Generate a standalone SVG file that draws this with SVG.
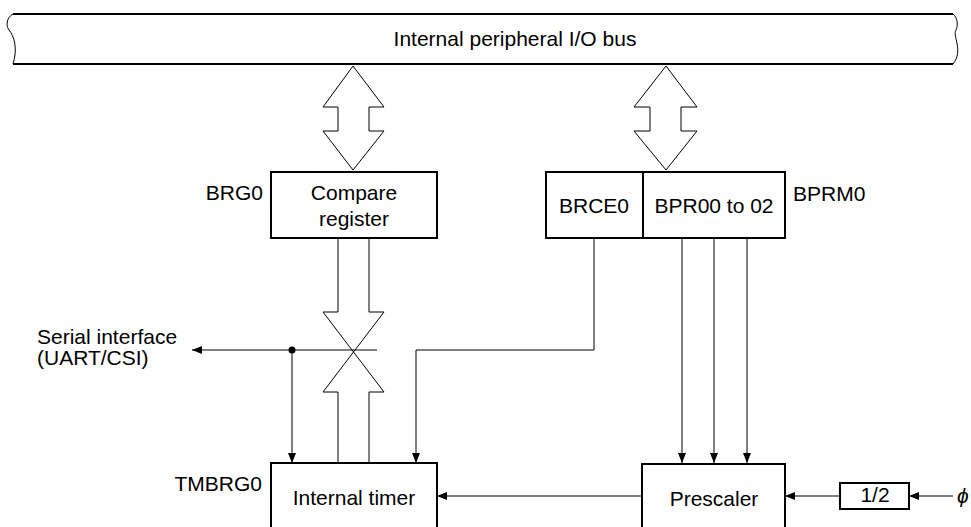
<svg xmlns="http://www.w3.org/2000/svg" width="971" height="527" viewBox="0 0 971 527">
<style>
text{font-family:"Liberation Sans",Arial,sans-serif;font-size:21px;fill:#000}
.box{fill:#fff;stroke:#000;stroke-width:2}
.ln{fill:none;stroke:#000;stroke-width:1}
.bus{fill:none;stroke:#000;stroke-width:2}
.dbl{fill:#fff;stroke:#000;stroke-width:1}
</style>
<defs>
<marker id="ah" markerWidth="10" markerHeight="8" refX="10" refY="4" orient="auto" markerUnits="userSpaceOnUse">
<path d="M0,0 L10,4 L0,8 Z" fill="#000"/>
</marker>
</defs>
<g id="bus">
<path class="bus" d="M13,14 H953 M13,64 H953"/>
<path class="ln" d="M13,14 C6,18 6,26 9,30 C14,36 18,48 13,64"/>
<path class="ln" d="M953,14 C958,18 958,26 956,30 C952,36 964,50 953,64"/>
<text x="515" y="46" text-anchor="middle">Internal peripheral I/O bus</text>
</g>
<g id="arrow-left">
<path class="dbl" d="M353,66 L384,107 L369,107 L369,131 L384,131 L353,170 L323,131 L338,131 L338,107 L323,107 Z"/>
</g>
<g id="arrow-right">
<path class="dbl" d="M666,66 L697,107 L681,107 L681,131 L697,131 L666,170 L634,131 L650,131 L650,107 L634,107 Z"/>
</g>
<g id="brg0">
<rect class="box" x="271" y="172" width="166" height="66"/>
<text x="354" y="200" text-anchor="middle">Compare</text>
<text x="354" y="226" text-anchor="middle">register</text>
<text x="263" y="200" text-anchor="end">BRG0</text>
</g>
<g id="brce0">
<rect class="box" x="546" y="172" width="97" height="66"/>
<text x="594" y="213" text-anchor="middle">BRCE0</text>
</g>
<g id="bprm0">
<rect class="box" x="643" y="172" width="142" height="66"/>
<text x="714" y="213" text-anchor="middle">BPR00 to 02</text>
<text x="793" y="201">BPRM0</text>
</g>
<g id="tmbrg0">
<rect class="box" x="271" y="463" width="166" height="70"/>
<text x="354" y="505" text-anchor="middle">Internal timer</text>
<text x="262" y="491" text-anchor="end">TMBRG0</text>
</g>
<g id="prescaler">
<rect class="box" x="642" y="464" width="143" height="70"/>
<text x="714" y="506" text-anchor="middle">Prescaler</text>
</g>
<g id="div2">
<rect class="box" x="840" y="483" width="69" height="26"/>
<text x="875" y="502" text-anchor="middle">1/2</text>
</g>
<g id="labels">
<text x="37" y="344">Serial interface</text>
<text x="37" y="365">(UART/CSI)</text>
<text x="957" y="503" font-family="'Liberation Serif',serif" font-style="italic">ϕ</text>
</g>
<g id="connectors">
<path class="ln" d="M338,238 V312 H323 L384,392 H369 V463 M369,238 V312 H384 L323,392 H338 V463"/>
<path class="ln" d="M377,350 H192" marker-end="url(#ah)"/>
<circle cx="292" cy="350" r="3.5" fill="#000"/>
<path class="ln" d="M292,350 V463" marker-end="url(#ah)"/>
<path class="ln" d="M594,238 V350 H416 V463" marker-end="url(#ah)"/>
<path class="ln" d="M682,238 V463" marker-end="url(#ah)"/>
<path class="ln" d="M714,238 V463" marker-end="url(#ah)"/>
<path class="ln" d="M747,238 V463" marker-end="url(#ah)"/>
<path class="ln" d="M642,496 H437" marker-end="url(#ah)"/>
<path class="ln" d="M840,496 H785" marker-end="url(#ah)"/>
<path class="ln" d="M953,496 H909" marker-end="url(#ah)"/>
</g>
</svg>
